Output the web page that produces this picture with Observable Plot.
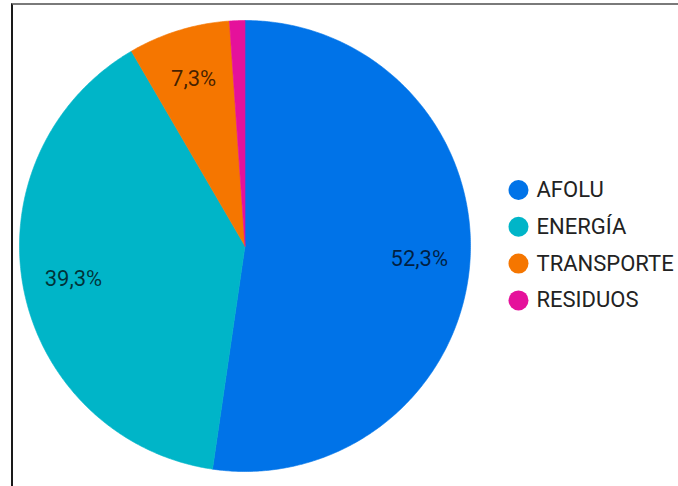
<!DOCTYPE html>
<html>
<head>
<meta charset="utf-8">
<script src="https://cdn.jsdelivr.net/npm/d3@7"></script>
<script src="https://cdn.jsdelivr.net/npm/@observablehq/plot@0.6"></script>
<style>
  html, body { margin: 0; padding: 0; background: #fff; }
  #wrap { position: relative; width: 678px; height: 486px; overflow: hidden; }
  #frame { position: absolute; left: 11px; top: 3px; right: 0; bottom: 0;
           border-top: 2px solid #7a7a7a; border-left: 2px solid #1a1a1a; pointer-events: none; }
  svg { display: block; }
</style>
</head>
<body>
<div id="wrap"><div id="chart"></div><div id="frame"></div></div>
<script>
// Data
const categories = ["AFOLU", "ENERGÍA", "TRANSPORTE", "RESIDUOS"];
const values = [52.3, 39.3, 7.3, 1.1];
const colors = ["#0073e8", "#00b5c8", "#f57600", "#e5119b"];

// Layout
const cx = 244.5, cy = 245.5, R = 225.5;
const labelRadius = 0.775;

const total = d3.sum(values);
let acc = 0;
const slicePoints = [];
const labelData = [];
categories.forEach((name, i) => {
  const a0 = acc / total * 2 * Math.PI;
  acc += values[i];
  const a1 = acc / total * 2 * Math.PI;
  slicePoints.push({name, x: 0, y: 0});
  const steps = Math.max(2, Math.ceil((a1 - a0) / (Math.PI / 360)));
  for (let k = 0; k <= steps; k++) {
    const a = a0 + (a1 - a0) * k / steps;
    slicePoints.push({name, x: Math.sin(a), y: Math.cos(a)});
  }
  slicePoints.push({name, x: 0, y: 0});
  if (values[i] >= 5) {
    const am = (a0 + a1) / 2;
    labelData.push({name, x: labelRadius * Math.sin(am), y: labelRadius * Math.cos(am),
                    text: values[i].toFixed(1).replace(".", ",") + "%"});
  }
});

// Legend rows (in the same unit coordinates as the pie)
const legendDotX = (518 - cx) / R, legendTextX = (536 - cx) / R;
const legendData = categories.map((name, i) => ({
  name, y: (cy - (189.5 + 36.8 * i)) / R
}));

const chart = Plot.plot({
  width: 678,
  height: 486,
  margin: 0,
  style: {fontFamily: "Roboto, 'Noto Sans', sans-serif", background: "transparent"},
  x: {domain: [-1, 1], range: [cx - R, cx + R], axis: null},
  y: {domain: [-1, 1], range: [cy + R, cy - R], axis: null},
  color: {domain: categories, range: colors},
  marks: [
    Plot.line(slicePoints, {x: "x", y: "y", z: "name", fill: "name", stroke: "name", strokeWidth: 0.6, curve: "linear"}),
    Plot.text(labelData, {x: "x", y: "y", text: "text", fill: "black", fillOpacity: 0.72, fontSize: 22}),
    Plot.dot(legendData, {x: () => legendDotX, y: "y", r: 10, fill: "name", stroke: null}),
    Plot.text(legendData, {x: () => legendTextX, y: "y", text: "name", textAnchor: "start", fill: "#222", fontSize: 22})
  ]
});
document.getElementById("chart").appendChild(chart);
</script>
</body>
</html>
